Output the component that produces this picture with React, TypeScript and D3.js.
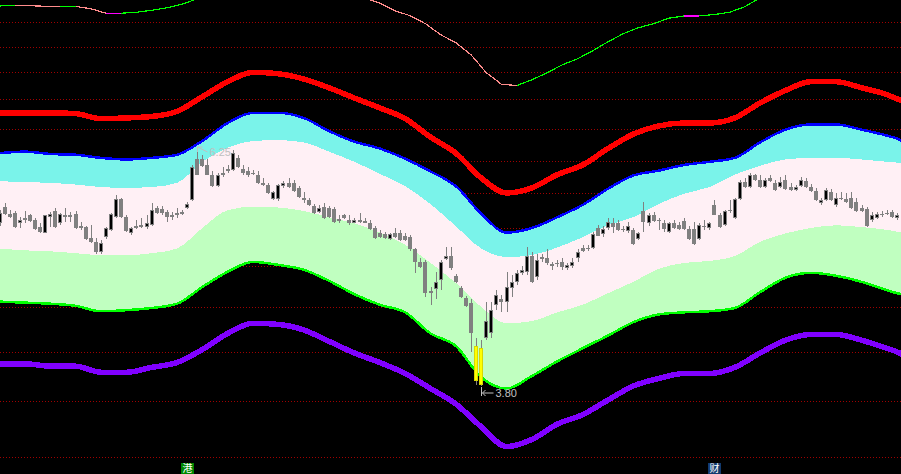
import React from "react";
import * as d3 from "d3";

const W = 901;
const H = 474;

// ---- candles (price) ----
const opens = [
  5.34, 5.52, 5.44, 5.45, 5.33, 5.39, 5.42, 5.37, 5.29, 5.23,
  5.40, 5.47, 5.33, 5.43, 5.42, 5.44, 5.28, 5.29, 5.17, 5.13,
  5.02, 5.18, 5.26, 5.40, 5.61, 5.40, 5.23, 5.30, 5.31, 5.29,
  5.31, 5.51, 5.49, 5.46, 5.40, 5.45, 5.44, 5.51, 5.60, 6.10,
  6.09, 6.02, 5.90, 5.76, 5.92, 5.95, 5.96, 6.11, 5.97, 5.95,
  5.92, 5.90, 5.80, 5.78, 5.61, 5.61, 5.76, 5.80, 5.80, 5.74,
  5.62, 5.60, 5.53, 5.46, 5.52, 5.51, 5.49, 5.36, 5.42, 5.37,
  5.34, 5.37, 5.36, 5.34, 5.28, 5.22, 5.21, 5.16, 5.23, 5.23,
  5.19, 5.18, 5.05, 4.92, 4.92, 4.61, 4.65, 4.74, 4.95, 4.98,
  4.78, 4.66, 4.56, 4.52, 4.13, 4.11, 4.20, 4.24, 4.50, 4.55,
  4.53, 4.66, 4.72, 4.81, 4.82, 4.98, 4.77, 4.97, 4.96, 4.88,
  4.91, 4.92, 4.86, 4.88, 4.96, 5.06, 5.07, 5.07, 5.28, 5.21,
  5.28, 5.34, 5.34, 5.27, 5.25, 5.26, 5.16, 5.47, 5.33, 5.42,
  5.37, 5.34, 5.24, 5.34, 5.31, 5.36, 5.27, 5.27, 5.16, 5.30,
  5.28, 5.54, 5.43, 5.31, 5.48, 5.39, 5.61, 5.81, 5.75, 5.89,
  5.84, 5.75, 5.86, 5.80, 5.75, 5.84, 5.75, 5.72, 5.76, 5.82,
  5.75, 5.70, 5.56, 5.60, 5.69, 5.54, 5.62, 5.61, 5.62, 5.57,
  5.51, 5.49, 5.37, 5.39, 5.44, 5.45, 5.46, 5.39,
];
const highs = [
  5.48, 5.56, 5.48, 5.47, 5.40, 5.47, 5.44, 5.39, 5.33, 5.43,
  5.46, 5.51, 5.45, 5.51, 5.46, 5.47, 5.35, 5.30, 5.31, 5.17,
  5.15, 5.29, 5.45, 5.66, 5.62, 5.43, 5.29, 5.37, 5.39, 5.43,
  5.56, 5.53, 5.53, 5.48, 5.46, 5.51, 5.48, 5.57, 6.02, 6.25,
  6.15, 6.09, 5.94, 5.92, 5.99, 6.02, 6.21, 6.15, 6.02, 5.99,
  5.96, 5.94, 5.86, 5.80, 5.70, 5.79, 5.82, 5.86, 5.84, 5.76,
  5.69, 5.62, 5.55, 5.54, 5.56, 5.53, 5.52, 5.42, 5.44, 5.42,
  5.39, 5.45, 5.39, 5.37, 5.30, 5.26, 5.24, 5.23, 5.28, 5.26,
  5.23, 5.20, 5.07, 4.96, 4.94, 4.67, 4.82, 4.94, 5.08, 5.08,
  4.80, 4.68, 4.58, 4.55, 4.20, 4.18, 4.53, 4.53, 4.64, 4.59,
  4.82, 4.79, 4.84, 4.88, 5.08, 5.02, 5.00, 5.00, 5.05, 4.92,
  4.94, 4.96, 4.91, 4.96, 5.05, 5.10, 5.10, 5.24, 5.31, 5.30,
  5.39, 5.39, 5.37, 5.30, 5.35, 5.28, 5.24, 5.57, 5.45, 5.46,
  5.39, 5.37, 5.35, 5.37, 5.35, 5.39, 5.30, 5.35, 5.33, 5.37,
  5.35, 5.60, 5.45, 5.48, 5.60, 5.62, 5.84, 5.86, 5.92, 5.91,
  5.89, 5.86, 5.90, 5.84, 5.87, 5.89, 5.80, 5.78, 5.87, 5.86,
  5.79, 5.74, 5.62, 5.74, 5.73, 5.68, 5.69, 5.68, 5.69, 5.62,
  5.54, 5.52, 5.46, 5.46, 5.47, 5.48, 5.48, 5.45,
];
const lows = [
  5.30, 5.43, 5.39, 5.28, 5.28, 5.34, 5.35, 5.26, 5.23, 5.22,
  5.29, 5.28, 5.31, 5.35, 5.35, 5.27, 5.26, 5.15, 5.12, 5.00,
  5.00, 5.16, 5.25, 5.39, 5.39, 5.24, 5.20, 5.27, 5.28, 5.27,
  5.30, 5.44, 5.42, 5.35, 5.37, 5.39, 5.42, 5.49, 5.59, 5.89,
  6.00, 5.89, 5.75, 5.75, 5.87, 5.92, 5.95, 5.98, 5.89, 5.87,
  5.89, 5.79, 5.76, 5.67, 5.60, 5.59, 5.74, 5.74, 5.69, 5.62,
  5.56, 5.53, 5.44, 5.45, 5.38, 5.39, 5.34, 5.34, 5.38, 5.31,
  5.33, 5.34, 5.33, 5.26, 5.16, 5.17, 5.16, 5.15, 5.17, 5.14,
  5.14, 5.03, 4.81, 4.86, 4.57, 4.50, 4.55, 4.64, 4.94, 4.84,
  4.71, 4.56, 4.48, 4.08, 3.81, 3.80, 4.18, 4.20, 4.45, 4.43,
  4.43, 4.57, 4.69, 4.79, 4.79, 4.71, 4.74, 4.92, 4.89, 4.84,
  4.87, 4.84, 4.84, 4.86, 4.92, 5.02, 5.03, 5.05, 5.19, 5.18,
  5.26, 5.23, 5.25, 5.24, 5.23, 5.10, 5.15, 5.24, 5.30, 5.35,
  5.26, 5.24, 5.23, 5.27, 5.26, 5.26, 5.15, 5.10, 5.15, 5.26,
  5.26, 5.42, 5.28, 5.30, 5.45, 5.38, 5.60, 5.74, 5.74, 5.82,
  5.74, 5.74, 5.81, 5.70, 5.74, 5.72, 5.70, 5.70, 5.75, 5.74,
  5.69, 5.59, 5.54, 5.59, 5.59, 5.52, 5.60, 5.56, 5.49, 5.46,
  5.46, 5.29, 5.35, 5.38, 5.40, 5.43, 5.39, 5.37,
];
const closes = [
  5.45, 5.44, 5.40, 5.29, 5.37, 5.37, 5.36, 5.27, 5.24, 5.42,
  5.44, 5.29, 5.44, 5.40, 5.40, 5.28, 5.30, 5.16, 5.13, 5.02,
  5.12, 5.28, 5.44, 5.61, 5.40, 5.25, 5.28, 5.28, 5.29, 5.33,
  5.48, 5.45, 5.45, 5.40, 5.43, 5.43, 5.46, 5.55, 6.00, 5.90,
  6.01, 5.90, 5.76, 5.90, 5.89, 5.97, 6.17, 6.00, 5.92, 5.89,
  5.91, 5.80, 5.78, 5.68, 5.69, 5.78, 5.80, 5.75, 5.70, 5.63,
  5.60, 5.54, 5.45, 5.51, 5.39, 5.40, 5.35, 5.38, 5.39, 5.33,
  5.37, 5.35, 5.34, 5.27, 5.17, 5.18, 5.17, 5.21, 5.18, 5.15,
  5.15, 5.05, 4.92, 4.87, 4.61, 4.63, 4.72, 4.92, 4.98, 4.86,
  4.72, 4.57, 4.49, 4.24, 3.84, 3.81, 4.35, 4.45, 4.59, 4.53,
  4.67, 4.72, 4.81, 4.84, 4.98, 4.72, 4.94, 4.95, 4.91, 4.90,
  4.90, 4.87, 4.89, 4.92, 5.02, 5.03, 5.05, 5.21, 5.19, 5.27,
  5.35, 5.29, 5.26, 5.26, 5.30, 5.11, 5.23, 5.35, 5.42, 5.36,
  5.36, 5.27, 5.34, 5.28, 5.27, 5.27, 5.16, 5.11, 5.31, 5.29,
  5.33, 5.43, 5.29, 5.47, 5.47, 5.61, 5.81, 5.75, 5.90, 5.84,
  5.75, 5.84, 5.82, 5.72, 5.81, 5.73, 5.72, 5.75, 5.84, 5.75,
  5.70, 5.60, 5.60, 5.72, 5.60, 5.62, 5.61, 5.57, 5.51, 5.47,
  5.47, 5.30, 5.43, 5.44, 5.43, 5.44, 5.40, 5.43,
];
const highlightBars = [94, 95];

// ---- envelope curves, read every 5 bars ----
const bandIdx = [
  0, 5, 10, 15, 20, 25, 30, 35, 40, 45, 50, 55, 60, 65, 70, 75, 80, 85, 90,
  95, 100, 105, 110, 115, 120, 125, 130, 135, 140, 145, 150, 155, 160, 165,
  170, 175, 177, 178,
];
const redLine = [
  6.71, 6.71, 6.71, 6.70, 6.63, 6.64, 6.66, 6.73, 6.94, 7.16, 7.30, 7.28,
  7.20, 7.07, 6.92, 6.78, 6.63, 6.38, 6.17, 5.86, 5.68, 5.74, 5.90, 6.02,
  6.23, 6.42, 6.53, 6.57, 6.57, 6.64, 6.85, 7.03, 7.16, 7.16, 7.07, 6.97,
  6.91, 6.88,
];
const blueLine = [
  6.17, 6.19, 6.16, 6.15, 6.11, 6.09, 6.11, 6.15, 6.33, 6.57, 6.71, 6.71,
  6.64, 6.46, 6.32, 6.23, 6.10, 5.94, 5.76, 5.44, 5.23, 5.28, 5.40, 5.54,
  5.73, 5.89, 5.95, 6.02, 6.06, 6.11, 6.31, 6.48, 6.55, 6.55, 6.48, 6.40,
  6.36, 6.33,
];
const pinkTop = [
  5.82, 5.81, 5.80, 5.78, 5.75, 5.74, 5.75, 5.80, 6.06, 6.24, 6.33, 6.34,
  6.31, 6.19, 6.06, 5.91, 5.76, 5.55, 5.30, 5.06, 4.97, 4.99, 5.07, 5.18,
  5.31, 5.40, 5.55, 5.67, 5.75, 5.90, 6.01, 6.09, 6.11, 6.11, 6.09, 6.06,
  6.05, 6.04,
];
const pinkBottom = [
  5.06, 5.04, 5.03, 5.01, 4.99, 4.99, 5.01, 5.06, 5.28, 5.48, 5.52, 5.51,
  5.47, 5.40, 5.33, 5.23, 5.10, 4.91, 4.71, 4.48, 4.33, 4.35, 4.43, 4.50,
  4.61, 4.72, 4.85, 4.91, 4.93, 4.98, 5.13, 5.22, 5.28, 5.31, 5.29, 5.26,
  5.24, 5.23,
];
const greenLine = [
  4.53, 4.52, 4.51, 4.49, 4.44, 4.45, 4.47, 4.51, 4.67, 4.82, 4.92, 4.89,
  4.84, 4.73, 4.60, 4.50, 4.43, 4.24, 4.13, 3.87, 3.78, 3.88, 4.00, 4.11,
  4.22, 4.34, 4.41, 4.43, 4.44, 4.47, 4.62, 4.76, 4.81, 4.78, 4.72, 4.64,
  4.61, 4.60,
];
const purpleLine = [
  3.98, 3.98, 3.96, 3.96, 3.91, 3.91, 3.95, 3.99, 4.10, 4.24, 4.33, 4.32,
  4.27, 4.17, 4.07, 3.99, 3.90, 3.78, 3.66, 3.49, 3.35, 3.40, 3.51, 3.58,
  3.69, 3.80, 3.86, 3.90, 3.90, 3.95, 4.07, 4.18, 4.23, 4.23, 4.18, 4.11,
  4.08, 4.06,
];

// ---- thin top line, read every 3 bars ----
const topIdx = [
  0, 3, 6, 9, 12, 15, 18, 21, 24, 27, 30, 33, 36, 39, 42, 45, 48, 51, 54, 57,
  60, 63, 66, 69, 72, 75, 78, 81, 84, 87, 90, 93, 96, 99, 102, 105, 108, 111,
  114, 117, 120, 123, 126, 129, 132, 135, 138, 141, 144, 147, 150, 153, 156,
  159, 162, 165, 168, 171, 174, 177,
];
const topLine = [
  8.383, 8.396, 8.387, 8.378, 8.371, 8.375, 8.335, 8.257, 8.257, 8.274, 8.308,
  8.352, 8.413, 8.51, 8.635, 8.78, 8.89, 8.965, 9.003, 8.984, 8.928, 8.835,
  8.726, 8.617, 8.528, 8.431, 8.3, 8.214, 8.079, 7.896, 7.765, 7.573, 7.295,
  7.122, 7.103, 7.189, 7.295, 7.417, 7.51, 7.636, 7.781, 7.912, 8.012, 8.079,
  8.172, 8.211, 8.211, 8.235, 8.274, 8.37, 8.528, 8.653, 8.744, 8.817, 8.853,
  8.872, 8.853, 8.817, 8.762, 8.689,
];

const gridPrices = [3.28, 3.68, 4.08, 4.48, 4.88, 5.28, 5.68, 6.07, 6.49, 6.9, 7.3, 7.7, 8.11];

const markerIdx = [37, 141];
const markerText = ["港", "财"];

export default function App() {
  const n = opens.length;
  const x = d3.scaleLinear().domain([0, n - 1]).range([-0.5, 897]);
  const y = d3.scaleLog().domain([3.8, 6.25]).range([386, 147]);
  const bx = (k: number) => x(bandIdx[k]);
  const curve = d3.curveMonotoneX;

  const area = (upper: number[], lower: number[]) =>
    d3
      .area<number>()
      .x((_, k) => bx(k))
      .y0((_, k) => y(lower[k]))
      .y1((d) => y(d))
      .curve(curve)(upper) || "";
  const line = (vals: number[]) =>
    d3
      .line<number>()
      .x((_, k) => bx(k))
      .y((d) => y(d))
      .curve(curve)(vals) || "";

  const gray = "#808080";

  const candles = opens.map((o, i) => {
    const c = closes[i];
    const cx = x(i);
    const x0 = Math.round(cx) - 2;
    const wx = x0 + 2.5;
    const yH = Math.round(y(highs[i]));
    const yL = Math.round(y(lows[i]));
    const hl = highlightBars.includes(i);
    if (c > o && !hl) {
      const top = Math.round(y(c));
      const bot = Math.round(y(o));
      const h = bot - top;
      return (
        <g key={i}>
          <line x1={wx} x2={wx} y1={yH} y2={top} stroke={gray} />
          <line x1={wx} x2={wx} y1={bot} y2={yL} stroke={gray} />
          {h >= 2 ? (
            <rect x={x0 + 0.5} y={top + 0.5} width={3} height={h - 1} fill="#000" stroke={gray} />
          ) : (
            <rect x={x0} y={top} width={4} height={1} fill={gray} />
          )}
        </g>
      );
    }
    const top = Math.round(y(Math.max(o, c)));
    const bot = Math.round(y(Math.min(o, c)));
    const h = Math.max(1, bot - top);
    return (
      <g key={i}>
        <line x1={wx} x2={wx} y1={yH} y2={yL} stroke={gray} />
        {hl ? (
          <rect x={x0 + 0.5} y={top + 0.5} width={3} height={h - 1} fill="#ffff00" stroke="#d8d800" />
        ) : (
          <rect x={x0} y={top} width={4} height={h} fill={gray} />
        )}
      </g>
    );
  });

  const topSegs = topLine.slice(0, -1).map((v, k) => {
    const v2 = topLine[k + 1];
    const col = v2 > v ? "#00ff00" : v2 < v ? "#ff8c8c" : "#ff00ff";
    return (
      <line
        key={k}
        x1={x(topIdx[k])}
        y1={y(v)}
        x2={x(topIdx[k + 1])}
        y2={y(v2)}
        stroke={col}
        strokeWidth={1.2}
      />
    );
  });

  const maxI = d3.maxIndex(highs);
  const minI = d3.minIndex(lows);
  const tx = Math.round(x(maxI)) + 0.5;
  const ty = Math.round(y(highs[maxI]));
  const lx = Math.round(x(minI)) + 0.5;
  const ly = Math.round(y(lows[minI]));
  const labelCol = "#c0c0c0";

  return (
    <svg
      width={W}
      height={H}
      style={{ position: "fixed", left: 0, top: 0, display: "block" }}
      fontFamily="'Liberation Sans', Arial, sans-serif"
    >
      <rect x={0} y={0} width={W} height={H} fill="#000" />
      <g shapeRendering="crispEdges">
        {gridPrices.map((p) => (
          <line
            key={p}
            x1={0}
            x2={W}
            y1={Math.round(y(p)) + 0.5}
            y2={Math.round(y(p)) + 0.5}
            stroke="#a00000"
            strokeDasharray="1 2"
          />
        ))}
      </g>
      <g shapeRendering="crispEdges">
        <path d={area(blueLine, greenLine)} fill="#7af3ea" />
        <path d={area(pinkTop, greenLine)} fill="#fff0f5" />
        <path d={area(pinkBottom, greenLine)} fill="#c0ffc0" />
        <path d={line(blueLine)} fill="none" stroke="#0000ff" strokeWidth={2.5} />
        <path d={line(greenLine)} fill="none" stroke="#00ff00" strokeWidth={2.5} />
        <path d={line(redLine)} fill="none" stroke="#ff0000" strokeWidth={5.5} />
        <path d={line(purpleLine)} fill="none" stroke="#8000ff" strokeWidth={5.5} />
        <g>{topSegs}</g>
      </g>
      <g shapeRendering="crispEdges">{candles}</g>

      <g stroke={labelCol} fill="none" strokeWidth={1}>
        <path d={`M${tx},${ty} L${tx + 10},${ty + 5} M${tx},${ty} H${tx + 5} M${tx},${ty} V${ty + 5}`} />
        <path d={`M${lx},${ly + 1} V${ly + 10} M${lx + 1},${ly + 7} H${lx + 12} M${lx + 4},${ly + 4} L${lx + 1},${ly + 7} L${lx + 4},${ly + 10}`} />
      </g>
      <text x={tx + 12} y={ty + 9} fill={labelCol} fontSize={11}>
        {highs[maxI].toFixed(2)}
      </text>
      <text x={lx + 14} y={ly + 11} fill={labelCol} fontSize={11}>
        {lows[minI].toFixed(2)}
      </text>

      {markerIdx.map((idx, k) => {
        const cx = Math.round(x(idx));
        return (
          <g key={k}>
            <rect x={cx - 6} y={463} width={13} height={11} fill={k === 0 ? "#008800" : "#123a6e"} />
            <text
              x={cx + 0.5}
              y={472}
              textAnchor="middle"
              fontSize={10}
              fill="#ffffff"
              fontFamily="'Noto Sans CJK SC', sans-serif"
            >
              {markerText[k]}
            </text>
          </g>
        );
      })}
    </svg>
  );
}
